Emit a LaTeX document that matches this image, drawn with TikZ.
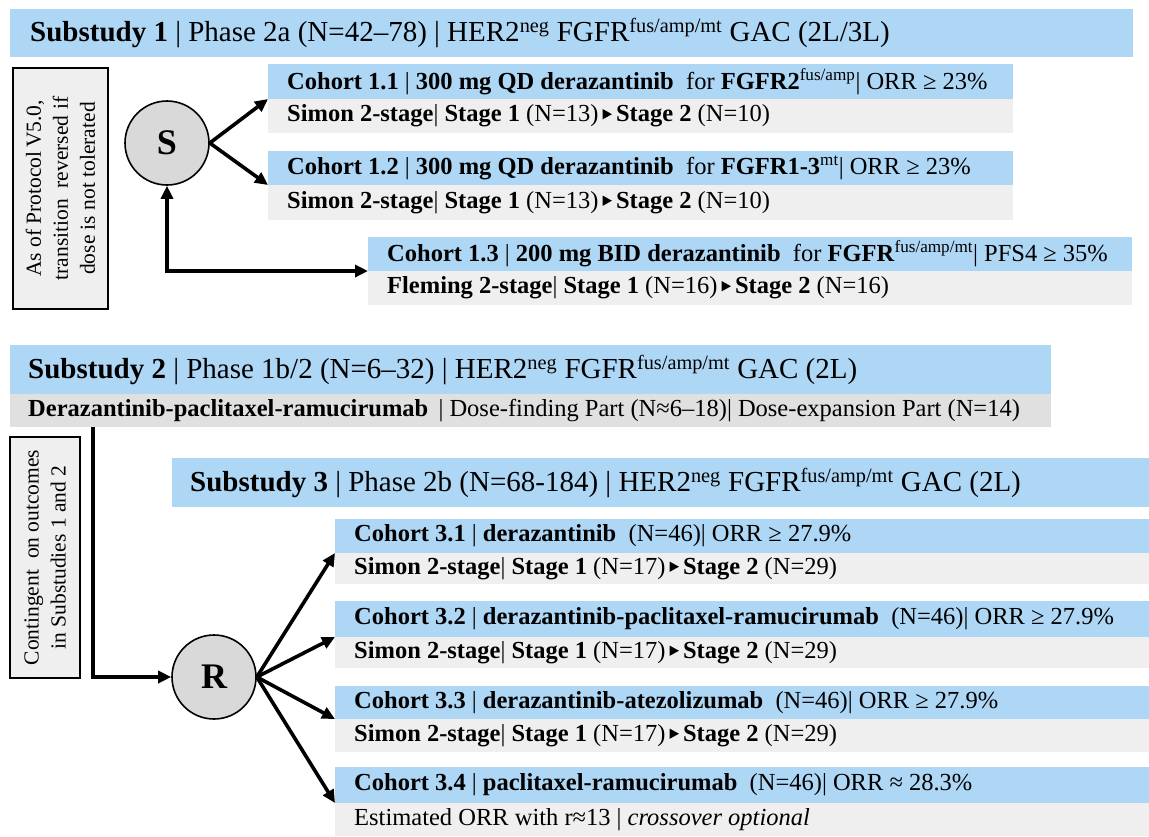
\documentclass[tikz,border=0pt]{standalone}
\usepackage{fontspec}
\setmainfont{Liberation Serif}
\usetikzlibrary{arrows.meta}
\definecolor{barblue}{HTML}{AED6F5}
\definecolor{bargray}{HTML}{EFEFEF}
\definecolor{bargrayd}{HTML}{E0E0E0}
\definecolor{circfill}{HTML}{D9D9D9}
\definecolor{notefill}{HTML}{EFEFEF}
% small right-pointing marker between stages
\newcommand\stagemark{\,\tikz[baseline=0pt]\fill (0,0.1em)--(0,0.52em)--(0.38em,0.31em)--cycle;\,}
\newcommand\sups[1]{\textsuperscript{#1}}
\tikzset{
  blue bar/.style={fill=barblue, draw=none, anchor=north west, inner sep=0pt, outer sep=0pt},
  gray bar/.style={fill=bargray, draw=none, anchor=north west, inner sep=0pt, outer sep=0pt},
  head text/.style={anchor=west, inner sep=0pt, font=\fontsize{29}{33}\selectfont},
  bar text/.style={anchor=west, inner sep=0pt, font=\fontsize{24.5}{28}\selectfont},
  note box/.style={draw=black, line width=2pt, fill=notefill, anchor=north west, inner sep=0pt},
  note text/.style={rotate=90, align=center, inner sep=0pt, font=\fontsize{21.5}{27}\selectfont},
  hub/.style={circle, draw=black, line width=1.6pt, fill=circfill, minimum size=84pt, inner sep=0pt,
              font=\bfseries\fontsize{36}{40}\selectfont},
  link/.style={line width=3.6pt, -{Triangle[length=13pt,width=12pt]}},
}
\begin{document}
\begin{tikzpicture}[x=1pt,y=-1pt]
\useasboundingbox (0,0) rectangle (1149,836);

% ---------------- Substudy 1 ----------------
\node[blue bar, minimum width=1123pt, minimum height=48pt] (h1) at (10,9) {};
\node[head text] (h1t) at ([xshift=20pt]h1.west)
  {\textbf{Substudy 1} | Phase 2a (N=42–78) | HER2\sups{neg} FGFR\sups{fus/amp/mt} GAC (2L/3L)};

\node[note box, minimum width=95pt, minimum height=241pt] (n1) at (12,67) {};
\node[note text] (n1t) at (n1.center) {As of Protocol\,V5.0,\\transition\ \ reversed if\\dose is not tolerated};

\node[hub] (S) at (167,143) {S};

\node[blue bar, minimum width=745pt, minimum height=35pt] (c11) at (268,64) {};
\node[gray bar, minimum width=745pt, minimum height=34pt] (c11g) at (268,99) {};
\node[bar text] (c11t) at ([xshift=19pt]c11.west)
  {\textbf{Cohort 1.1} | \textbf{300 mg QD derazantinib}\enspace for \textbf{FGFR2}\sups{fus/amp}| ORR ≥ 23\%};
\node[bar text] (c11gt) at ([xshift=19pt]c11g.west)
  {\textbf{Simon 2-stage}| \textbf{Stage 1} (N=13)\stagemark\textbf{Stage 2} (N=10)};

\node[blue bar, minimum width=745pt, minimum height=34pt] (c12) at (268,151) {};
\node[gray bar, minimum width=745pt, minimum height=35pt] (c12g) at (268,185) {};
\node[bar text] (c12t) at ([xshift=19pt]c12.west)
  {\textbf{Cohort 1.2} | \textbf{300 mg QD derazantinib}\enspace for \textbf{FGFR1-3}\sups{mt}| ORR ≥ 23\%};
\node[bar text] (c12gt) at ([xshift=19pt]c12g.west)
  {\textbf{Simon 2-stage}| \textbf{Stage 1} (N=13)\stagemark\textbf{Stage 2} (N=10)};

\node[blue bar, minimum width=764pt, minimum height=34pt] (c13) at (368,237) {};
\node[gray bar, minimum width=764pt, minimum height=34pt] (c13g) at (368,271) {};
\node[bar text] (c13t) at ([xshift=19pt]c13.west)
  {\textbf{Cohort 1.3} | \textbf{200 mg BID derazantinib}\enspace for \textbf{FGFR}\sups{fus/amp/mt}| PFS4 ≥ 35\%};
\node[bar text] (c13gt) at ([xshift=19pt]c13g.west)
  {\textbf{Fleming 2-stage}| \textbf{Stage 1} (N=16)\stagemark\textbf{Stage 2} (N=16)};

\draw[link] (S.east) -- (c11.south west);
\draw[link] (S.east) -- (c12.south west);
\draw[link, {Triangle[length=13pt,width=12pt]}-{Triangle[length=13pt,width=12pt]}] (S.south) |- (c13.south west);

% ---------------- Substudy 2 ----------------
\node[blue bar, minimum width=1041pt, minimum height=49pt] (h2) at (10,345) {};
\node[gray bar, fill=bargrayd, minimum width=1041pt, minimum height=33pt] (h2g) at (10,394) {};
\node[head text] (h2t) at ([xshift=18pt]h2.west)
  {\textbf{Substudy 2} | Phase 1b/2 (N=6–32) | HER2\sups{neg} FGFR\sups{fus/amp/mt} GAC (2L)};
\node[bar text] (h2gt) at ([xshift=18pt]h2g.west)
  {\textbf{Derazantinib-paclitaxel-ramucirumab} \,| Dose-finding Part (N≈6–18)| Dose-expansion Part (N=14)};

\node[note box, minimum width=70pt, minimum height=241pt] (n2) at (9,436) {};
\node[note text] (n2t) at (n2.center) {Contingent\ \ on outcomes\\in Substudies 1 and 2};

% ---------------- Substudy 3 ----------------
\node[blue bar, minimum width=977pt, minimum height=49pt] (h3) at (172,458) {};
\node[head text] (h3t) at ([xshift=18pt]h3.west)
  {\textbf{Substudy 3} | Phase 2b (N=68-184) | HER2\sups{neg} FGFR\sups{fus/amp/mt} GAC (2L)};

\node[hub] (R) at (214,677) {R};

\node[blue bar, minimum width=814pt, minimum height=34pt] (c31) at (335,519) {};
\node[gray bar, minimum width=814pt, minimum height=31pt] (c31g) at (335,553) {};
\node[bar text] (c31t) at ([xshift=19pt]c31.west)
  {\textbf{Cohort 3.1} | \textbf{derazantinib}\enspace(N=46)| ORR ≥ 27.9\%};
\node[bar text] (c31gt) at ([xshift=19pt]c31g.west)
  {\textbf{Simon 2-stage}| \textbf{Stage 1} (N=17)\stagemark\textbf{Stage 2} (N=29)};

\node[blue bar, minimum width=814pt, minimum height=36pt] (c32) at (335,601) {};
\node[gray bar, minimum width=814pt, minimum height=31pt] (c32g) at (335,637) {};
\node[bar text] (c32t) at ([xshift=19pt]c32.west)
  {\textbf{Cohort 3.2} | \textbf{derazantinib-paclitaxel-ramucirumab}\enspace(N=46)| ORR ≥ 27.9\%};
\node[bar text] (c32gt) at ([xshift=19pt]c32g.west)
  {\textbf{Simon 2-stage}| \textbf{Stage 1} (N=17)\stagemark\textbf{Stage 2} (N=29)};

\node[blue bar, minimum width=814pt, minimum height=33pt] (c33) at (335,686) {};
\node[gray bar, minimum width=814pt, minimum height=33pt] (c33g) at (335,719) {};
\node[bar text] (c33t) at ([xshift=19pt]c33.west)
  {\textbf{Cohort 3.3} | \textbf{derazantinib-atezolizumab}\enspace(N=46)| ORR ≥ 27.9\%};
\node[bar text] (c33gt) at ([xshift=19pt]c33g.west)
  {\textbf{Simon 2-stage}| \textbf{Stage 1} (N=17)\stagemark\textbf{Stage 2} (N=29)};

\node[blue bar, minimum width=814pt, minimum height=36pt] (c34) at (335,767) {};
\node[gray bar, minimum width=814pt, minimum height=33pt] (c34g) at (335,803) {};
\node[bar text] (c34t) at ([xshift=19pt]c34.west)
  {\textbf{Cohort 3.4} | \textbf{paclitaxel-ramucirumab}\enspace(N=46)| ORR ≈ 28.3\%};
\node[bar text] (c34gt) at ([xshift=19pt]c34g.west)
  {Estimated ORR with r≈13 | \textit{crossover optional}};

\coordinate (drop) at ([xshift=83pt]h2g.south west);
\draw[link] (drop) |- (R.west);
\draw[link] (R.east) -- (c31.south west);
\draw[link] (R.east) -- (c32.south west);
\draw[link] (R.east) -- (c33.south west);
\draw[link] (R.east) -- (c34.south west);
\end{tikzpicture}
\end{document}
